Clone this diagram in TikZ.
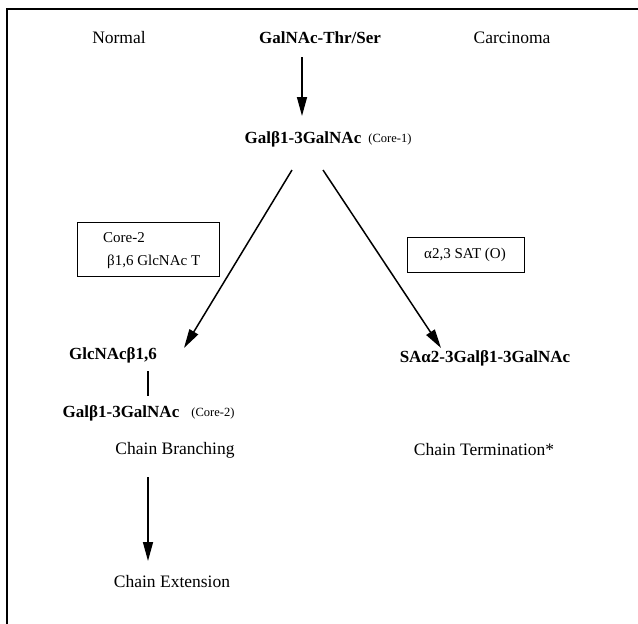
\documentclass[tikz,border=0pt]{standalone}
\usepackage{fontspec}
\setmainfont{Liberation Serif}
\usetikzlibrary{arrows.meta}
\begin{document}
\begin{tikzpicture}[x=1pt,y=-1pt,
  lbl/.style={inner sep=0pt,font=\fontsize{17.5}{20}\selectfont},
  bld/.style={inner sep=0pt,font=\fontsize{17}{20}\selectfont\bfseries},
  sml/.style={inner sep=0pt,font=\fontsize{12.5}{15}\selectfont},
  boxtxt/.style={inner sep=0pt,font=\fontsize{15}{18}\selectfont},
  arr/.style={line width=1.5pt,-{Triangle[length=19pt,width=10pt]}},
  frame/.style={line width=1.6pt}]
\useasboundingbox (0,0) rectangle (638,624);
% frame
\coordinate (ftr) at (638,9);
\coordinate (ftl) at (7,9);
\coordinate (fbl) at (7,624);
\draw[frame] (ftr) -- (ftl) -- (fbl);
% top row
\node[lbl] (normal) at (119,38) {Normal};
\node[bld] (galnac) at (320,38) {GalNAc-Thr/Ser};
\node[lbl] (carc) at (512,38) {Carcinoma};
% core 1
\node[bld] (core1) at (303,139) {Galβ1-3GalNAc};
\node[sml] (core1l) at (390,139) {(Core-1)};
\coordinate (a1s) at (302,57);
\coordinate (a1e) at (302,116);
\draw[arr] (a1s) -- (a1e);
% enzyme boxes
\node[draw,line width=0.8pt,minimum width=142pt,minimum height=54pt,inner sep=0pt] (box1) at (148,249) {};
\node[boxtxt,anchor=west] (box1a) at (103,238) {Core-2};
\node[boxtxt,anchor=west] (box1b) at (107,262) {β1,6 GlcNAc T};
\node[draw,line width=0.8pt,minimum width=117pt,minimum height=35pt,inner sep=0pt] (box2) at (465.5,254.5) {};
\node[boxtxt] (box2t) at (465,255) {α2,3 SAT (O)};
% diagonal arrows
\coordinate (l1) at (292,170);
\coordinate (l2) at (184,348);
\coordinate (r1) at (323,170);
\coordinate (r2) at (441,348);
\draw[arr] (l1) -- (l2);
\draw[arr] (r1) -- (r2);
% left branch
\node[bld] (glc) at (113,355) {GlcNAcβ1,6};
\node[bld] (core2) at (121,413) {Galβ1-3GalNAc};
\node[sml] (core2l) at (213,413) {(Core-2)};
\coordinate (v1) at (148,371);
\coordinate (v2) at (148,396);
\draw[line width=1.5pt] (v1) -- (v2);
\node[lbl] (branch) at (175,450) {Chain Branching};
\coordinate (b1) at (148,477);
\coordinate (b2) at (148,561);
\draw[arr] (b1) -- (b2);
\node[lbl] (ext) at (172,582) {Chain Extension};
% right branch
\node[bld] (sa) at (485,358) {SAα2-3Galβ1-3GalNAc};
\node[lbl] (term) at (484,450) {Chain Termination*};
\end{tikzpicture}
\end{document}
